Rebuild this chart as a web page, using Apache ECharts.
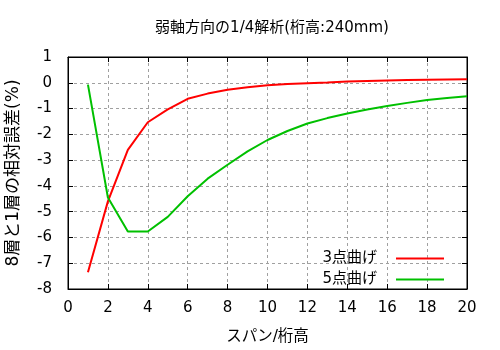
<!DOCTYPE html>
<html><head><meta charset="utf-8">
<script src="https://cdn.jsdelivr.net/npm/echarts@6/dist/echarts.min.js"></script>
<style>html,body{margin:0;padding:0;background:#fff}#c{width:500px;height:350px}</style>
</head><body><div id="c"></div>
<script>
const xs = [1,2,3,4,5,6,7,8,9,10,11,12,13,14,15,16,17,18,19,20];
const threePoint = [-7.35,-4.6,-2.6,-1.53,-1.03,-0.62,-0.42,-0.27,-0.17,-0.1,-0.05,-0.02,0.01,0.05,0.07,0.09,0.11,0.12,0.13,0.14];
const fivePoint = [-0.07,-4.45,-5.77,-5.77,-5.2,-4.4,-3.72,-3.18,-2.66,-2.22,-1.87,-1.58,-1.37,-1.19,-1.04,-0.9,-0.78,-0.67,-0.59,-0.52];
const seriesNames = ['3点曲げ','5点曲げ'];
const titleText = '弱軸方向の1/4解析(桁高:240mm)';
const xName = 'スパン/桁高';
const yName = '8層と1層の相対誤差(%)';

const font = '"DejaVu Sans", "Noto Sans CJK JP", sans-serif';
const chart = echarts.init(document.getElementById('c'), null, {renderer:'canvas'});
const pair = a => xs.map((x,i)=>[x,a[i]]);
const grid = {left:68, right:33, top:57, bottom:61, show:true, borderColor:'#000', borderWidth:1, backgroundColor:'transparent', containLabel:false, outerBoundsMode:'none'};
const splitLine = {show:true, lineStyle:{color:'#a0a0a0', type:[3,3], width:1}};
const tick = {show:true, inside:true, length:5, lineStyle:{color:'#000'}};
chart.setOption({
  animation:false,
  title:{text:titleText, left:267, top:16, textAlign:'center', textStyle:{fontFamily:font, fontWeight:'normal', fontSize:15, color:'#000'}},
  grid: grid,
  legend:{orient:'vertical', right:51, top:246, align:'right', icon:'rect', itemWidth:48, itemHeight:2, itemGap:6,
    textStyle:{fontFamily:font, fontSize:15, color:'#000', padding:[0,14,0,0], lineHeight:14}, data:seriesNames},
  xAxis:[{type:'value', min:0, max:20, interval:2, position:'bottom',
    axisLine:{show:true, onZero:false, lineStyle:{color:'#000'}}, axisTick:tick,
    axisLabel:{fontFamily:font, fontSize:15, color:'#000', margin:12},
    splitLine:splitLine,
    name:xName, nameLocation:'middle', nameGap:40, nameTextStyle:{fontFamily:font, fontSize:15.5, color:'#000'}},
    {type:'value', min:0, max:20, interval:2, position:'top',
    axisLine:{show:true, onZero:false, lineStyle:{color:'#000'}}, axisTick:tick,
    axisLabel:{show:false}, splitLine:{show:false}}],
  yAxis:[{type:'value', min:-8, max:1, interval:1, position:'left',
    axisLine:{show:true, onZero:false, lineStyle:{color:'#000'}}, axisTick:tick,
    axisLabel:{fontFamily:font, fontSize:15, color:'#000', margin:16},
    splitLine:splitLine,
    name:yName, nameLocation:'middle', nameGap:46, nameRotate:90, nameTextStyle:{fontFamily:font, fontSize:17, color:'#000'}},
    {type:'value', min:-8, max:1, interval:1, position:'right',
    axisLine:{show:true, onZero:false, lineStyle:{color:'#000'}}, axisTick:tick,
    axisLabel:{show:false}, splitLine:{show:false}}],
  series:[
    {name:seriesNames[0], type:'line', data:pair(threePoint), symbol:'none', lineStyle:{color:'#ff0000', width:2}, itemStyle:{color:'#ff0000'}},
    {name:seriesNames[1], type:'line', data:pair(fivePoint), symbol:'none', lineStyle:{color:'#00c000', width:2}, itemStyle:{color:'#00c000'}}
  ]
});
</script></body></html>
